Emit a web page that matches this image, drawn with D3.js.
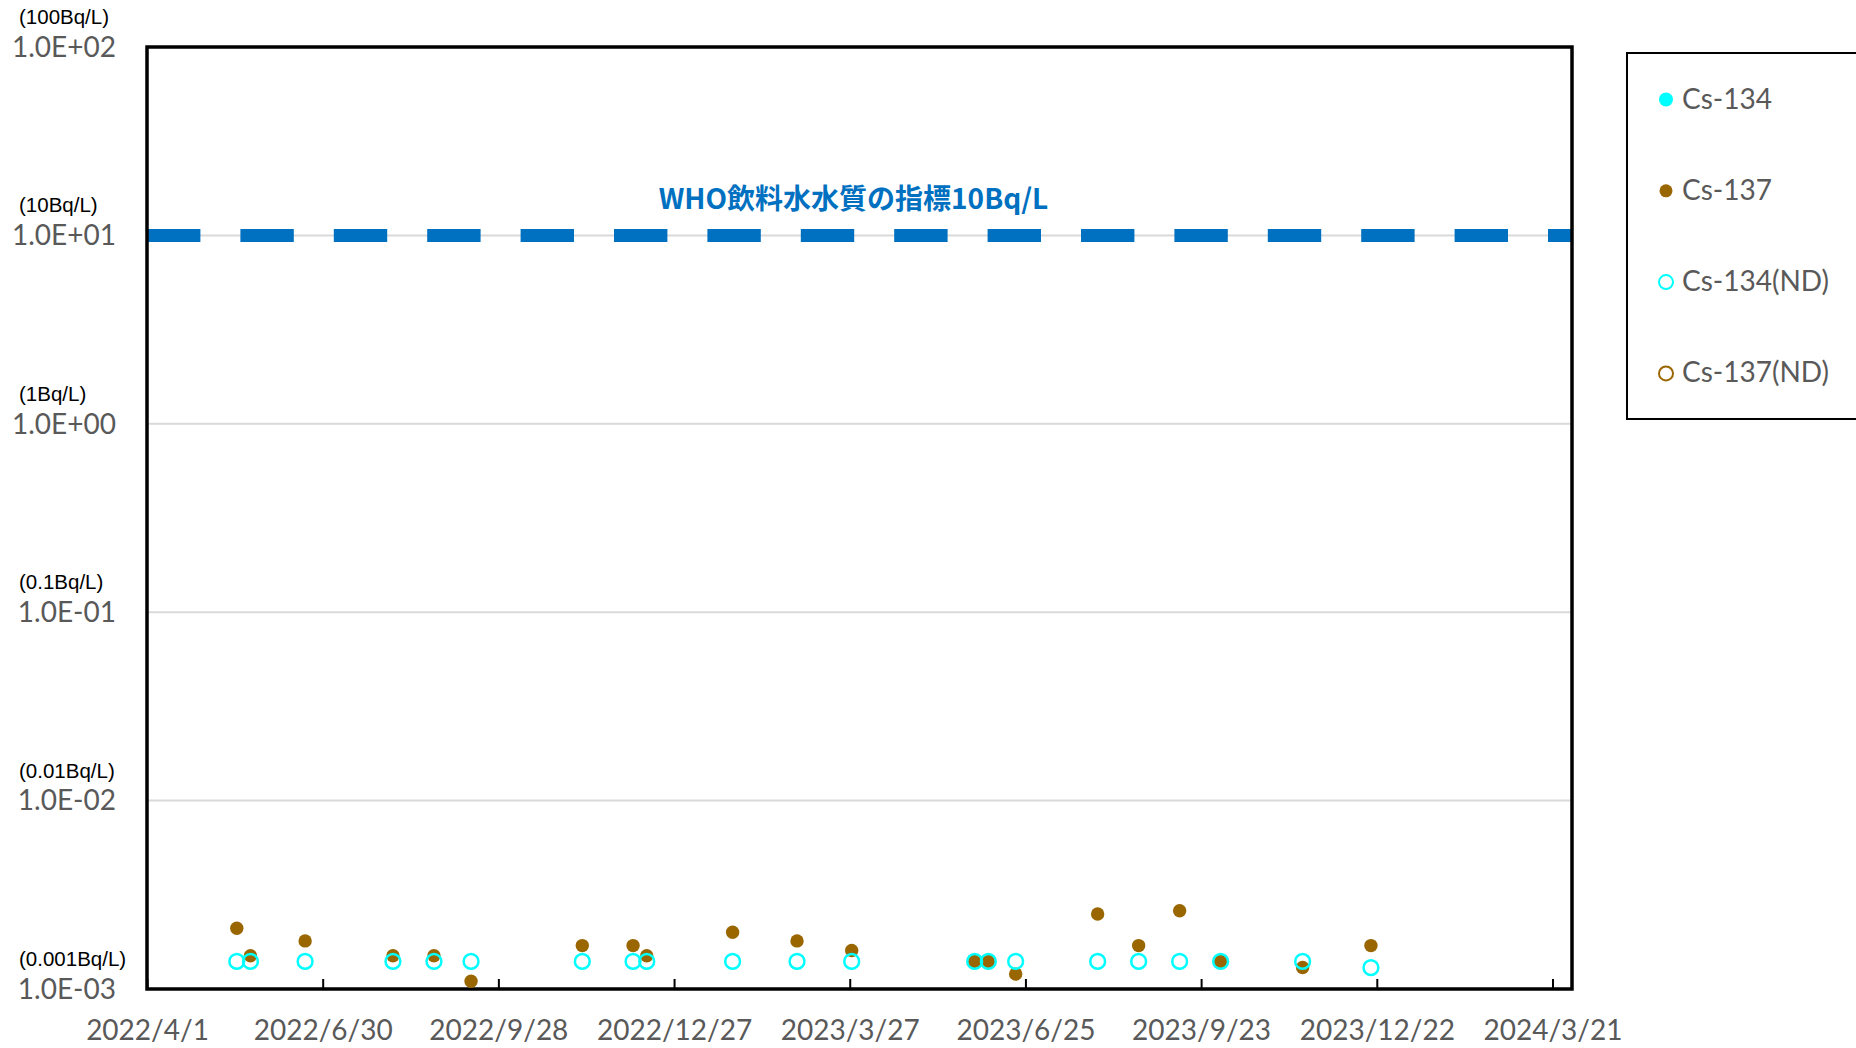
<!DOCTYPE html>
<html>
<head>
<meta charset="utf-8">
<script src="https://cdn.jsdelivr.net/npm/d3@7"></script>
<style>
  body { margin: 0; background: #fff; }
  svg { display: block; }
</style>
</head>
<body>
<div id="chart"></div>
<script>
// Cs-134 / Cs-137 in drinking water, log scale, with the WHO guideline line

// Sampling dates
let dates = ["2022/5/17", "2022/5/24", "2022/6/21", "2022/8/5", "2022/8/26", "2022/9/14",
    "2022/11/10", "2022/12/6", "2022/12/13", "2023/1/26", "2023/2/28", "2023/3/28",
    "2023/5/30", "2023/6/6", "2023/6/20", "2023/8/1", "2023/8/22", "2023/9/12",
    "2023/10/3", "2023/11/14", "2023/12/19"];

// Detected values (Bq/L)
let cs134 = [];
let cs137 = [0.0021, 0.0015, 0.0018, 0.0015, 0.0015, 0.0011,
    0.0017, 0.0017, 0.0015, 0.0020, 0.0018, 0.0016,
    0.0014, 0.0014, 0.0012, 0.0025, 0.0017, 0.0026,
    0.0014, 0.0013, 0.0017];

// Not detected (detection limit, Bq/L)
let cs134ND = [0.0014, 0.0014, 0.0014, 0.0014, 0.0014, 0.0014,
    0.0014, 0.0014, 0.0014, 0.0014, 0.0014, 0.0014,
    0.0014, 0.0014, 0.0014, 0.0014, 0.0014, 0.0014,
    0.0014, 0.0014, 0.0013];
let cs137ND = [];

// WHO guideline for drinking water
let whoLimit = 10;
let whoLabel = "WHO飲料水水質の指標10Bq/L";

// Axis labels
let xTickLabels = ["2022/4/1", "2022/6/30", "2022/9/28", "2022/12/27", "2023/3/27",
    "2023/6/25", "2023/9/23", "2023/12/22", "2024/3/21"];
let xDomain = ["2022/4/1", "2024/3/31"];
let yTickValues = [1e2, 1e1, 1e0, 1e-1, 1e-2, 1e-3];
let yTickLabels = ["1.0E+02", "1.0E+01", "1.0E+00", "1.0E-01", "1.0E-02", "1.0E-03"];
let yUnitLabels = ["(100Bq/L)", "(10Bq/L)", "(1Bq/L)", "(0.1Bq/L)", "(0.01Bq/L)", "(0.001Bq/L)"];

let legendNames = ["Cs-134", "Cs-137", "Cs-134(ND)", "Cs-137(ND)"];

// Chart size
let width = 1856,
    height = 1048,
    plot = { left: 147, right: 1572, top: 47, bottom: 989 };

let cyan = "#00ffff",
    brown = "#996600",
    grey = "#595959";

let parse = d3.timeParse("%Y/%m/%d");

let x = d3.scaleTime()
    .domain(xDomain.map(parse))
    .range([plot.left, plot.right]);

let y = d3.scaleLog()
    .domain([1e-3, 1e2])
    .range([plot.bottom, plot.top]);

let svg = d3.select("#chart")
    .append("svg")
    .attr("width", width)
    .attr("height", height);

svg.append("rect")
    .attr("width", width)
    .attr("height", height)
    .attr("fill", "#fff");

// Gridlines
svg.append("g")
    .selectAll("line")
    .data(yTickValues.filter(v => v > 1e-3 && v < 1e2))
    .join("line")
    .attr("x1", plot.left)
    .attr("x2", plot.right)
    .attr("y1", d => y(d))
    .attr("y2", d => y(d))
    .attr("stroke", "#d9d9d9")
    .attr("stroke-width", 2);

// WHO line
svg.append("line")
    .attr("x1", plot.left)
    .attr("x2", plot.right)
    .attr("y1", y(whoLimit))
    .attr("y2", y(whoLimit))
    .attr("stroke", "#0070c0")
    .attr("stroke-width", 13)
    .attr("stroke-dasharray", "53.4,40");

svg.append("text")
    .attr("x", (plot.left + plot.right) / 2 - 6)
    .attr("y", y(whoLimit) - 38)
    .attr("dominant-baseline", "central")
    .attr("text-anchor", "middle")
    .attr("font-family", "'Noto Sans CJK JP', sans-serif")
    .attr("font-weight", "bold")
    .attr("font-size", 28)
    .attr("fill", "#0070c0")
    .text(whoLabel);

// y axis labels
let yaxis = svg.append("g")
    .attr("transform", "translate(116,0)")
    .call(d3.axisLeft(y)
        .tickValues(yTickValues)
        .tickFormat((d, i) => yTickLabels[i])
        .tickSize(0)
        .tickPadding(0));
yaxis.select(".domain").remove();
yaxis.selectAll("text")
    .attr("dy", "0.33em")
    .attr("font-family", "Lato, sans-serif")
    .attr("font-size", 28)
    .attr("fill", grey);

svg.append("g")
    .selectAll("text")
    .data(yTickValues)
    .join("text")
    .attr("x", 19)
    .attr("y", d => y(d) - 23)
    .attr("font-family", "'Liberation Sans', sans-serif")
    .attr("font-size", 20.5)
    .attr("fill", "#000")
    .text((d, i) => yUnitLabels[i]);

// x axis
let xaxis = svg.append("g")
    .attr("transform", `translate(0,${plot.bottom})`)
    .call(d3.axisBottom(x)
        .tickValues(xTickLabels.map(parse))
        .tickFormat(d3.timeFormat("%Y/%-m/%-d"))
        .tickSizeInner(-10)
        .tickSizeOuter(0));
xaxis.select(".domain").remove();
xaxis.selectAll("line")
    .attr("stroke", "#000")
    .attr("stroke-width", 2);
xaxis.selectAll("text")
    .attr("y", 51)
    .attr("dy", 0)
    .attr("font-family", "Lato, sans-serif")
    .attr("font-size", 28)
    .attr("fill", grey);

// Plot border
svg.append("rect")
    .attr("x", plot.left)
    .attr("y", plot.top)
    .attr("width", plot.right - plot.left)
    .attr("height", plot.bottom - plot.top)
    .attr("fill", "none")
    .attr("stroke", "#000")
    .attr("stroke-width", 3.5);

// Points, in series order so the ND rings sit on top
let series = [
    { values: cs134, fill: cyan, stroke: "none" },
    { values: cs137, fill: brown, stroke: "none" },
    { values: cs134ND, fill: "none", stroke: cyan },
    { values: cs137ND, fill: "none", stroke: brown }
];

series.forEach(s => {
    let pts = s.values.map((v, i) => ({ date: parse(dates[i]), value: v }));
    svg.append("g")
        .selectAll("circle")
        .data(pts)
        .join("circle")
        .attr("cx", d => x(d.date))
        .attr("cy", d => y(d.value))
        .attr("r", s.fill === "none" ? 7.4 : 6.7)
        .attr("fill", s.fill)
        .attr("stroke", s.stroke)
        .attr("stroke-width", 2.5);
});

// Legend
let legend = svg.append("g");
legend.append("rect")
    .attr("x", 1627)
    .attr("y", 53)
    .attr("width", 240)
    .attr("height", 366)
    .attr("fill", "#fff")
    .attr("stroke", "#000")
    .attr("stroke-width", 2);

let items = legend.selectAll(".item")
    .data(series)
    .join("g")
    .attr("transform", (d, i) => `translate(1666,${99.5 + i * 91.3})`);

items.append("circle")
    .attr("r", (d, i) => i === 1 ? 6.5 : 7)
    .attr("fill", d => d.fill)
    .attr("stroke", d => d.stroke)
    .attr("stroke-width", 2);

items.append("text")
    .attr("x", 16)
    .attr("y", 9)
    .attr("font-family", "Lato, sans-serif")
    .attr("font-size", 28)
    .attr("fill", grey)
    .text((d, i) => legendNames[i]);
</script>
</body>
</html>
